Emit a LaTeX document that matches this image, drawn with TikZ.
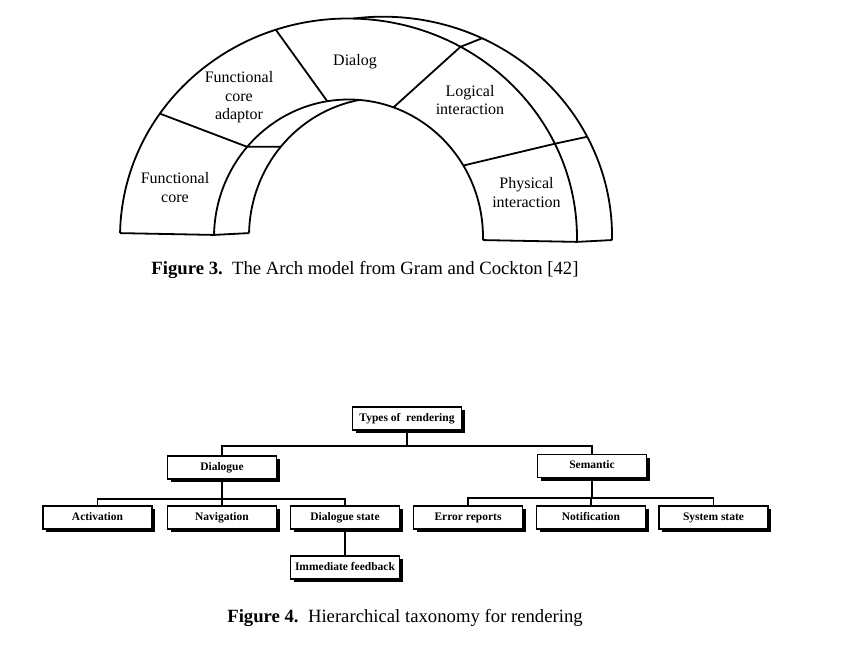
\documentclass[tikz,border=0pt]{standalone}
\usepackage{fontspec}
\setmainfont{Liberation Serif}
\usetikzlibrary{calc,shadows}
\begin{document}
\begin{tikzpicture}[x=1pt,y=1pt,
  archline/.style={line width=1.8pt, line join=round},
  archlabel/.style={font=\fontsize{16}{18.5}\selectfont, align=center, inner sep=0pt},
  caption/.style={font=\fontsize{18.7}{21}\selectfont, inner sep=0pt},
  taxbox/.style={draw, line width=1.5pt, fill=white, minimum width=109pt, minimum height=23pt, inner sep=0pt,
    text height=8pt, text depth=2.5pt,
    font=\fontsize{11.5}{13}\selectfont\bfseries,
    drop shadow={shadow xshift=3pt, shadow yshift=-3pt, opacity=1, fill=black}},
  link/.style={line width=1.8pt}]
\useasboundingbox[fill=white] (0,0) rectangle (851,-655);

% ---------------- Arch ----------------
\begin{scope}[shift={(348.5,-237.5)}, rotate=-1.1, archline]
  % front face
  \draw (-228.5,0) arc[start angle=180, end angle=0, x radius=228.5, y radius=219];
  \draw (-134.5,0) arc[start angle=180, end angle=0, x radius=134.5, y radius=138];
  % bases
  \draw (-228.5,0) -- (-134.5,0) -- (-99.5,2.5);
  \draw (134.5,0) -- (228.5,0) -- (263.5,2.5);
  % back face, visible parts
  \draw (-99.5,2.5) arc[start angle=180, end angle=101.5, x radius=134.5, y radius=138];
  \draw (263.5,2.5) arc[start angle=0, end angle=98.7, x radius=228.5, y radius=219];
  % dividers
  \draw (146.7:228.5 and 219) -- (140:134.5 and 138) -- ($(35,2.5)+(141:134.5 and 138)$);
  \draw (109.6:228.5 and 219) -- (100.2:134.5 and 138);
  \draw (71.6:134.5 and 138) -- (61.7:228.5 and 219) -- ($(35,2.5)+(65.5:228.5 and 219)$);
  \draw (32.5:134.5 and 138) -- (26.5:228.5 and 219) -- ($(35,2.5)+(28:228.5 and 219)$);
\end{scope}

\node[archlabel] (fc)  at (175,-187.5) {Functional\\core};
\node[archlabel] (fca) at (239,-97.5) {Functional\\core\\adaptor};
\node[archlabel] (dlg) at (355,-61.5) {Dialog};
\node[archlabel] (li)  at (470,-100) {Logical\\interaction};
\node[archlabel] (pi)  at (526.5,-192.5) {Physical\\interaction};

\node[caption] (cap3) at (365,-270) {\textbf{Figure 3.}\ \ The Arch model from Gram and Cockton [42]};

% ---------------- Taxonomy ----------------
\node[taxbox] (types) at (407,-418.5) {Types of\ \ rendering};
\node[taxbox] (dial)  at (222,-467.5) {Dialogue};
\node[taxbox] (sem)   at (592,-466)   {Semantic};
\node[taxbox] (act)   at (97.5,-517.5) {Activation};
\node[taxbox] (nav)   at (222,-517.5) {Navigation};
\node[taxbox] (dst)   at (345,-517.5) {Dialogue state};
\node[taxbox] (imf)   at (345,-567.5) {Immediate feedback};
\node[taxbox] (err)   at (468,-517.5) {Error reports};
\node[taxbox] (notif) at (591,-517.5) {Notification};
\node[taxbox] (sys)   at (713.5,-517.5) {System state};

\begin{scope}[link]
  \draw (types.south) -- ++(0,-15) -| (dial.north);
  \draw (types.south) -- ++(0,-15) -| (sem.north);
  \draw (dial.south) -- ++(0,-19) -| (act.north);
  \draw (dial.south) -- (nav.north);
  \draw (dial.south) -- ++(0,-19) -| (dst.north);
  \draw (sem.south) -- ++(0,-20) -| (err.north);
  \draw (sem.south) -- ++(0,-20) -| (notif.north);
  \draw (sem.south) -- ++(0,-20) -| (sys.north);
  \draw (dst.south) -- (imf.north);
\end{scope}

\node[caption] (cap4) at (405,-618) {\textbf{Figure 4.}\ \ Hierarchical taxonomy for rendering};
\end{tikzpicture}
\end{document}
